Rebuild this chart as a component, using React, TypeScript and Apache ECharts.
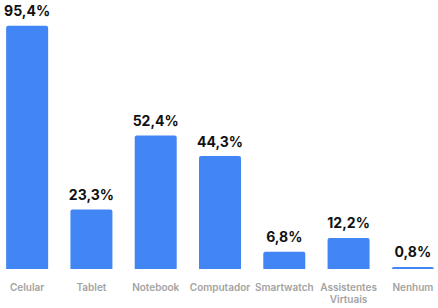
import React, { useEffect, useRef } from "react";
import * as echarts from "echarts";

const categories = [
  "Celular",
  "Tablet",
  "Notebook",
  "Computador",
  "Smartwatch",
  "Assistentes\nVirtuais",
  "Nenhum",
];
const values = [95.4, 23.3, 52.4, 44.3, 6.8, 12.2, 0.8];

export default function App() {
  const ref = useRef<HTMLDivElement>(null);

  useEffect(() => {
    if (!ref.current) return;
    const chart = echarts.init(ref.current, null, { renderer: "svg" });
    chart.setOption({
      animation: false,
      grid: {
        left: 0,
        right: 0,
        top: 14,
        bottom: 39,
        containLabel: false,
        outerBoundsMode: "none",
      },
      xAxis: {
        type: "category",
        data: categories,
        axisLine: { show: false },
        axisTick: { show: false },
        axisLabel: {
          color: "#a3a3a3",
          fontFamily: "Inter",
          fontWeight: 600,
          fontSize: 10,
          margin: 12,
          lineHeight: 12,
          interval: 0,
        },
      },
      yAxis: {
        type: "value",
        min: 0,
        max: 100,
        show: false,
        splitLine: { show: false },
      },
      series: [
        {
          type: "bar",
          data: values,
          barWidth: 42,
          itemStyle: { color: "#4285f4", borderRadius: [2, 2, 0, 0] },
          label: {
            show: true,
            position: "top",
            distance: 8,
            color: "#111111",
            fontFamily: "Inter",
            fontWeight: 700,
            fontSize: 14,
            formatter: (p: any) => p.value.toFixed(1).replace(".", ",") + "%",
          },
        },
      ],
    });
    return () => chart.dispose();
  }, []);

  return (
    <div
      ref={ref}
      style={{ position: "absolute", left: -5, top: 0, width: 450, height: 308 }}
    />
  );
}
